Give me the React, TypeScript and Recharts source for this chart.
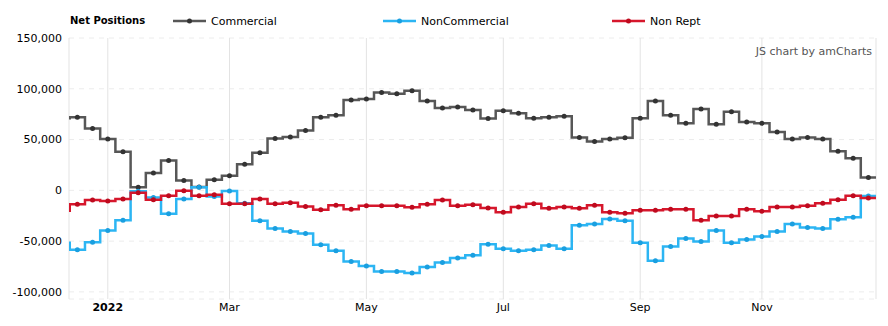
import { LineChart, Line, XAxis, YAxis, CartesianGrid } from "recharts";

// weekly report dates; first entry is the week just left of the visible window
const weeks = [
  "2021-12-14", "2021-12-21", "2021-12-28", "2022-01-04", "2022-01-11", "2022-01-18",
  "2022-01-25", "2022-02-01", "2022-02-08", "2022-02-15", "2022-02-22", "2022-03-01",
  "2022-03-08", "2022-03-15", "2022-03-22", "2022-03-29", "2022-04-05", "2022-04-12",
  "2022-04-19", "2022-04-26", "2022-05-03", "2022-05-10", "2022-05-17", "2022-05-24",
  "2022-05-31", "2022-06-07", "2022-06-14", "2022-06-21", "2022-06-28", "2022-07-05",
  "2022-07-12", "2022-07-19", "2022-07-26", "2022-08-02", "2022-08-09", "2022-08-16",
  "2022-08-23", "2022-08-30", "2022-09-06", "2022-09-13", "2022-09-20", "2022-09-27",
  "2022-10-04", "2022-10-11", "2022-10-18", "2022-10-25", "2022-11-01", "2022-11-08",
  "2022-11-15", "2022-11-22", "2022-11-29", "2022-12-06", "2022-12-13", "2022-12-20",
];

const commercial = [
  71000, 72000, 61000, 50500, 38000, 3000, 17000, 29500, 9600, 3300, 10300, 14300,
  25600, 37000, 51000, 52500, 59000, 72000, 74000, 89000, 90000, 96300, 95000, 98000,
  88000, 81000, 82000, 79000, 70700, 78400, 76000, 71000, 72000, 73000, 52000, 48000,
  50500, 51800, 71000, 88000, 74000, 66000, 80000, 65000, 77400, 67400, 66000, 57400,
  50500, 52000, 50500, 38500, 31500, 12600,
];

const nonCommercial = [
  -51500, -58400, -51000, -39500, -29500, -1000, -7000, -23000, -8600, 3000, -6000, -700,
  -12600, -30000, -37500, -40500, -42500, -53500, -59400, -70000, -74400, -80000, -80000, -81300,
  -75400, -71000, -66700, -64000, -53000, -57400, -59400, -58400, -54400, -57400, -34500, -33200,
  -28200, -30000, -51500, -69400, -55400, -47500, -50500, -39500, -51500, -48500, -45500, -40500,
  -33200, -36500, -37500, -28500, -26500, -5600,
];

const nonRept = [
  -20000, -13600, -9600, -10600, -8600, -2300, -9300, -5300, -300, -5300, -4300, -13300,
  -13300, -8600, -13300, -12300, -16000, -19000, -14600, -18600, -15300, -15300, -15300, -16600,
  -13600, -9600, -15300, -14300, -17300, -21600, -16300, -13300, -17600, -16300, -17600, -14600,
  -21600, -22600, -19600, -19600, -18600, -18600, -29500, -25200, -25200, -18600, -20600, -16300,
  -16300, -15300, -12600, -9300, -5300, -7600,
];

const tickWeeks = ["2022-01-04", "2022-03-01", "2022-05-03", "2022-07-05", "2022-09-06", "2022-11-01"];
const tickNames = ["2022", "Mar", "May", "Jul", "Sep", "Nov"];
const yTicks = [-100000, -50000, 0, 50000, 100000, 150000];

const series = [
  { key: "commercial", name: "Commercial", color: "#575757", dot: "#333333" },
  { key: "nonCommercial", name: "NonCommercial", color: "#2cb5f3", dot: "#1a9fe0" },
  { key: "nonRept", name: "Non Rept", color: "#d6172c", dot: "#bf0a1e" },
];

type Row = { idx: number; week: string; commercial: number; nonCommercial: number; nonRept: number; pad?: boolean };

const data: Row[] = weeks.map((w, i) => ({
  idx: i - 1,
  week: w,
  commercial: commercial[i],
  nonCommercial: nonCommercial[i],
  nonRept: nonRept[i],
  pad: i === 0,
}));
// carry the last step out to the right edge of the plot
const last = data[data.length - 1];
data.push({ ...last, idx: last.idx + 1, week: "", pad: true });

const tickIdx = tickWeeks.map((w) => weeks.indexOf(w) - 1);
const lastIdx = weeks.length - 2;

const FONT = "'DejaVu Sans', Verdana, sans-serif";

function XTick(props: any) {
  const { x, y, payload } = props;
  const label = tickNames[tickIdx.indexOf(payload.value)];
  return (
    <text x={x} y={y} dy="0.71em" textAnchor="middle" fontSize={11} fill="#000"
      fontWeight={label === "2022" ? "bold" : "normal"} fontFamily={FONT}>
      {label}
    </text>
  );
}

function LegendItem({ left, name, color, dot }: { left: number; name: string; color: string; dot: string }) {
  return (
    <div style={{ position: "absolute", left, top: 14, height: 14, display: "flex", alignItems: "center" }}>
      <svg width={33} height={14}>
        <line x1={0} y1={7} x2={33} y2={7} stroke={color} strokeWidth={2.5} />
        <circle cx={16.5} cy={7} r={2.5} fill={dot} />
      </svg>
      <span style={{ marginLeft: 5, fontSize: 11, color: "#000" }}>{name}</span>
    </div>
  );
}

export default function App() {
  const legendLeft = [173, 383, 612];
  return (
    <div style={{ position: "absolute", left: 0, top: 0, width: 888, height: 326, fontFamily: FONT, background: "#fff" }}>
      <LineChart width={888} height={326} data={data} margin={{ top: 38, right: 12, bottom: 7, left: 0 }}>
        <CartesianGrid horizontal vertical={false} stroke="#ececec" strokeDasharray="5 5" />
        <CartesianGrid horizontal={false} vertical stroke="#e3e3e3" />
        <XAxis
          type="number"
          dataKey="idx"
          domain={[-0.55, lastIdx + 0.5]}
          allowDataOverflow
          ticks={tickIdx}
          tick={<XTick />}
          tickLine={false}
          axisLine={false}
          tickSize={0}
          tickMargin={4}
          height={20}
        />
        <YAxis
          domain={[-107000, 150000]}
          allowDataOverflow
          ticks={yTicks}
          tickFormatter={(v: number) => v.toLocaleString("en-US")}
          tick={{ fontSize: 11, fill: "#000", fontFamily: FONT }}
          tickLine={false}
          axisLine={false}
          tickSize={0}
          tickMargin={7}
          width={69}
        />
        {series.map((s) => (
          <Line
            key={s.key}
            type="step"
            dataKey={s.key}
            stroke={s.color}
            strokeWidth={2.5}
            isAnimationActive={false}
            dot={(p: any) =>
              p.payload.pad ? (
                <g key={p.key} />
              ) : (
                <circle key={p.key} cx={p.cx} cy={p.cy} r={2.5} fill={s.dot} />
              )
            }
            activeDot={false}
          />
        ))}
      </LineChart>
      <div style={{ position: "absolute", left: 70, top: 14, height: 14, lineHeight: "14px", fontSize: 10, fontWeight: "bold", color: "#000" }}>
        Net Positions
      </div>
      {series.map((s, i) => (
        <LegendItem key={s.key} left={legendLeft[i]} name={s.name} color={s.color} dot={s.dot} />
      ))}
      <div style={{ position: "absolute", right: 16, top: 45, fontSize: 11, color: "#555" }}>JS chart by amCharts</div>
    </div>
  );
}
